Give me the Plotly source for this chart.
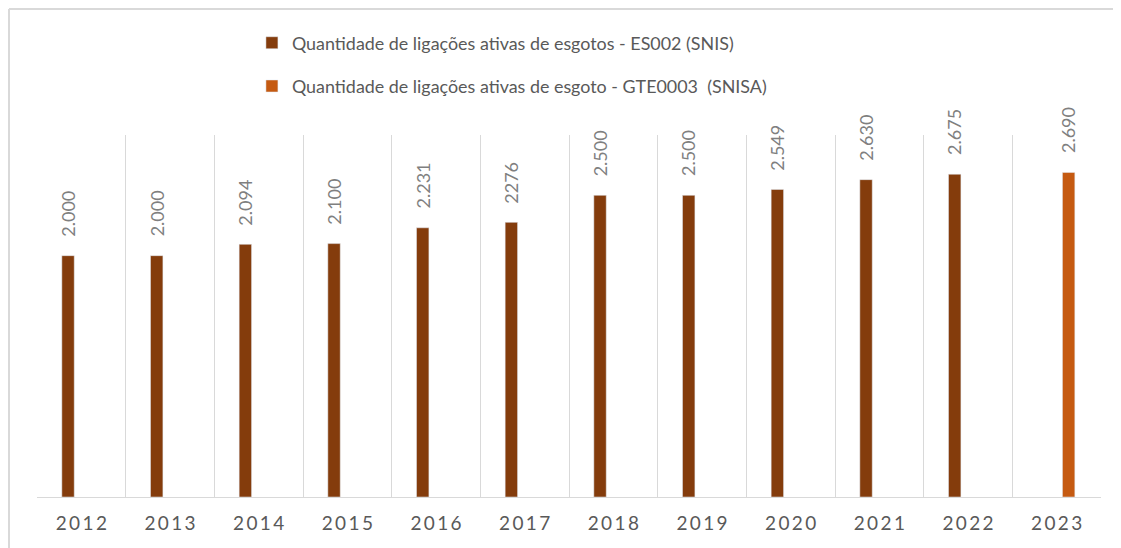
import plotly.graph_objects as go

years = ["2012", "2013", "2014", "2015", "2016", "2017", "2018", "2019", "2020", "2021", "2022", "2023"]
snis_years = years[:11]
snis_values = [2000, 2000, 2094, 2100, 2231, 2276, 2500, 2500, 2549, 2630, 2675]
snis_labels = ["2.000", "2.000", "2.094", "2.100", "2.231", "2276", "2.500", "2.500", "2.549", "2.630", "2.675"]
snisa_years = ["2023"]
snisa_values = [2690]
snisa_labels = ["2.690"]
tick_labels = ["\u2009".join(y) for y in years]

name1 = "Quantidade de ligações ativas de esgotos - ES002 (SNIS)"
name2 = "Quantidade de ligações ativas de esgoto - GTE0003  (SNISA)"
c1 = "#843C0C"
c2 = "#C55A11"
FONT = "Lato"

BAR_W = 0.14
OFF1 = -0.22
OFF2 = 0.065

fig = go.Figure()
fig.add_trace(go.Bar(x=snis_years, y=snis_values, name=name1, marker_color=c1,
                     width=BAR_W, offset=OFF1, legendgroup="a"))
fig.add_trace(go.Bar(x=snisa_years, y=snisa_values, name=name2, marker_color=c2,
                     width=BAR_W, offset=OFF2, legendgroup="b"))

annotations = []
for xs, vs, ls, off in [(snis_years, snis_values, snis_labels, OFF1),
                        (snisa_years, snisa_values, snisa_labels, OFF2)]:
    for x, v, l in zip(xs, vs, ls):
        xi = years.index(x) + off + BAR_W / 2
        annotations.append(dict(x=xi, y=v, xref="x", yref="y", text=l, showarrow=False,
                                textangle=-90, xanchor="center", yanchor="bottom", yshift=17,
                                font=dict(family=FONT, size=18, color="#7F7F7F")))

fig.update_layout(
    width=1121, height=548,
    margin=dict(l=29, r=28, t=127, b=59, autoexpand=False),
    paper_bgcolor="white", plot_bgcolor="white",
    barmode="overlay",
    showlegend=True,
    legend=dict(orientation="v", x=0.202, xanchor="left", y=1.305, yanchor="top",
                font=dict(family=FONT, size=17.9, color="#595959"),
                tracegroupgap=17, bgcolor="rgba(0,0,0,0)"),
    annotations=annotations,
    xaxis=dict(type="category", categoryorder="array", categoryarray=years,
               tickvals=years, ticktext=tick_labels, tickson="boundaries",
               showgrid=True, gridcolor="#D9D9D9", gridwidth=1.3,
               showline=True, linecolor="#D9D9D9", linewidth=1.3,
               ticks="", ticklabelstandoff=9,
               tickfont=dict(family=FONT, size=19, color="#595959"),
               range=[-0.5, 11.5]),
    yaxis=dict(range=[0, 3000], showgrid=False, showticklabels=False, zeroline=False,
               showline=False, ticks=""),
    shapes=[
        dict(type="line", xref="paper", yref="paper", x0=-0.0263, x1=-0.0263, y0=1.348, y1=-0.3,
             line=dict(color="#D9D9D9", width=2)),
        dict(type="line", xref="paper", yref="paper", x0=-0.0263, x1=1.1, y0=1.348, y1=1.348,
             line=dict(color="#D9D9D9", width=2)),
    ],
)

fig.write_html("out.html")
